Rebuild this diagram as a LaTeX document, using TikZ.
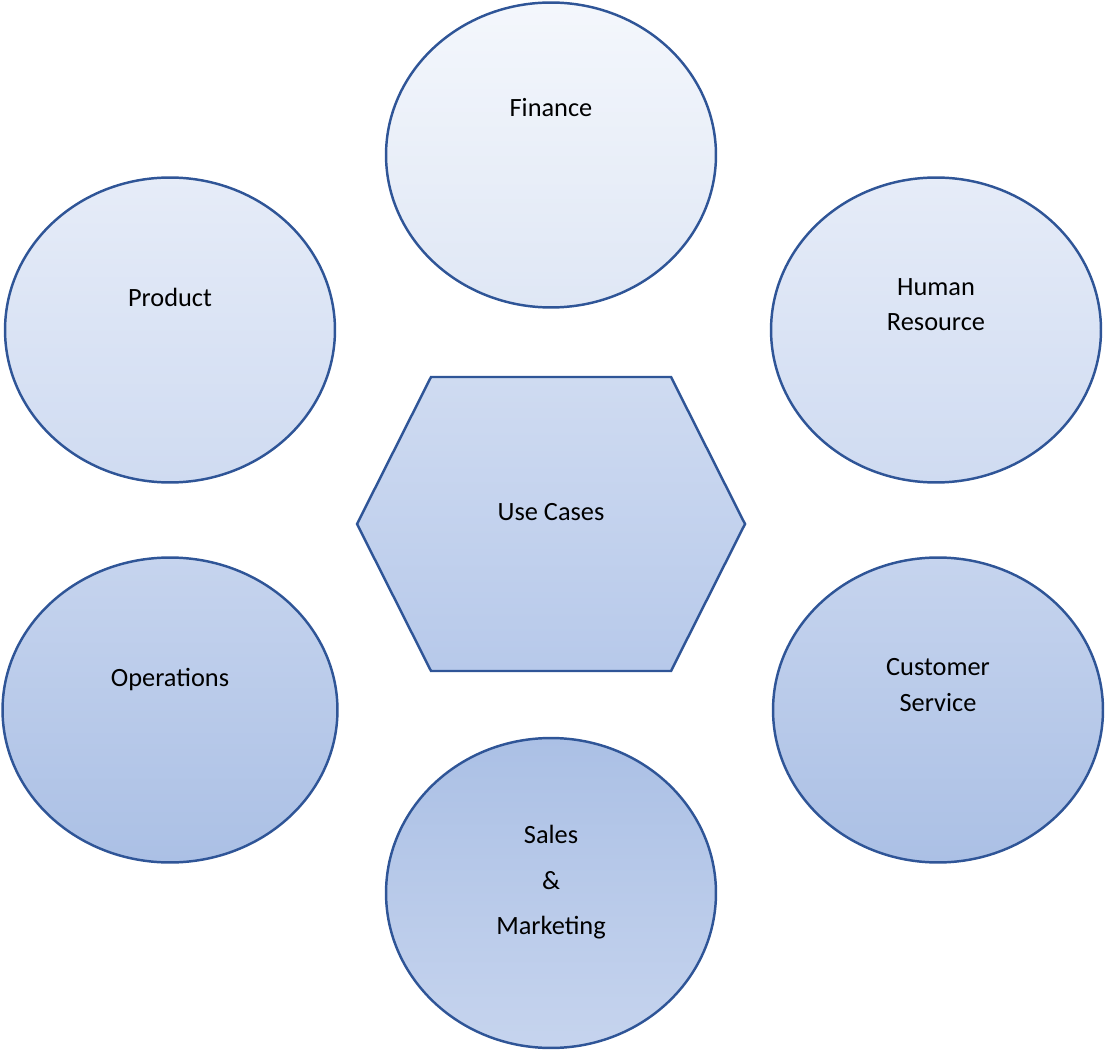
\documentclass[tikz,border=0pt]{standalone}
\usepackage{fontspec}
\setmainfont{Carlito}
\usetikzlibrary{shapes.geometric}
\definecolor{rim}{HTML}{2F5597}
\definecolor{shadeA}{HTML}{F4F7FC}
\definecolor{shadeB}{HTML}{DFE7F5}
\definecolor{shadeC}{HTML}{E6ECF8}
\definecolor{shadeD}{HTML}{CFDBF1}
\definecolor{shadeE}{HTML}{C6D4EE}
\definecolor{shadeF}{HTML}{ABC0E5}
\definecolor{shadeG}{HTML}{B7C9EA}
\tikzset{
  area/.style={ellipse, draw=rim, line width=1.4pt, minimum width=6.6cm,
    minimum height=6.1cm, align=center, font=\fontsize{15}{20}\selectfont},
  hexa/.style={draw=rim, line width=1.4pt}
}
\begin{document}
\begin{tikzpicture}[x=0.02cm,y=-0.02cm]
  \useasboundingbox (0,0) rectangle (1105,1050);
  % hexagon in the middle
  \path[hexa, top color=shadeD, bottom color=shadeG]
    (357,524) -- (431,377) -- (671,377) -- (745,524) -- (671,671) -- (431,671) -- cycle;
  \node[font=\fontsize{15}{20}\selectfont] (usecases) at (551,512) {Use Cases};
  % the six areas
  \node[area, top color=shadeA, bottom color=shadeB] (finance) at (551,155) {Finance\\[1.2cm]};
  \node[area, top color=shadeC, bottom color=shadeD] (product) at (170,330) {Product\\[0.6cm]};
  \node[area, top color=shadeC, bottom color=shadeD] (hr) at (936,330) {Human\\Resource\\[0.3cm]};
  \node[area, minimum width=6.7cm, top color=shadeE, bottom color=shadeF] (ops) at (170,710) {Operations\\[0.6cm]};
  \node[area, top color=shadeE, bottom color=shadeF] (cs) at (938,710) {Customer\\Service\\[0.3cm]};
  \node[area, minimum height=6.2cm, top color=shadeF, bottom color=shadeE,
    font=\fontsize{15}{26}\selectfont] (sales) at (551,893) {Sales\\\&\\Marketing\\[-0.4cm]};
\end{tikzpicture}
\end{document}
